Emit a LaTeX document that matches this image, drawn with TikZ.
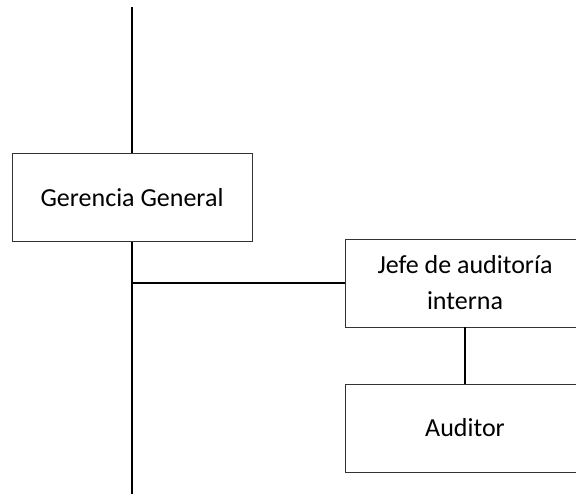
\documentclass[tikz,border=0pt]{standalone}
\usepackage{fontspec}
\setmainfont{Carlito}
\begin{document}
\begin{tikzpicture}[x=1pt,y=-1pt,
  caja/.style={draw=black!80,line width=0.8pt,fill=white,minimum width=240pt,minimum height=88pt,
    inner sep=0pt,align=center,font=\fontsize{26}{36}\selectfont},
  linea/.style={line width=1.5pt}]
 \useasboundingbox (0,0) rectangle (576,495);
 \clip (0,0) rectangle (576,495);
 \coordinate (arriba) at (132,7);
 \coordinate (abajo) at (132,494);
 \node[caja] (gg) at (132,197.5) {Gerencia General};
 \node[caja] (jefe) at (465,283) {Jefe de auditoría\\interna};
 \node[caja] (aud) at (465,428) {Auditor};
 % lineas de mando
 \draw[linea] (arriba) -- (gg.north);
 \draw[linea] (gg.south) -- (abajo);
 \draw[linea] (gg.south |- jefe.west) -- (jefe.west);
 \draw[linea] (jefe.south) -- (aud.north);
\end{tikzpicture}
\end{document}
